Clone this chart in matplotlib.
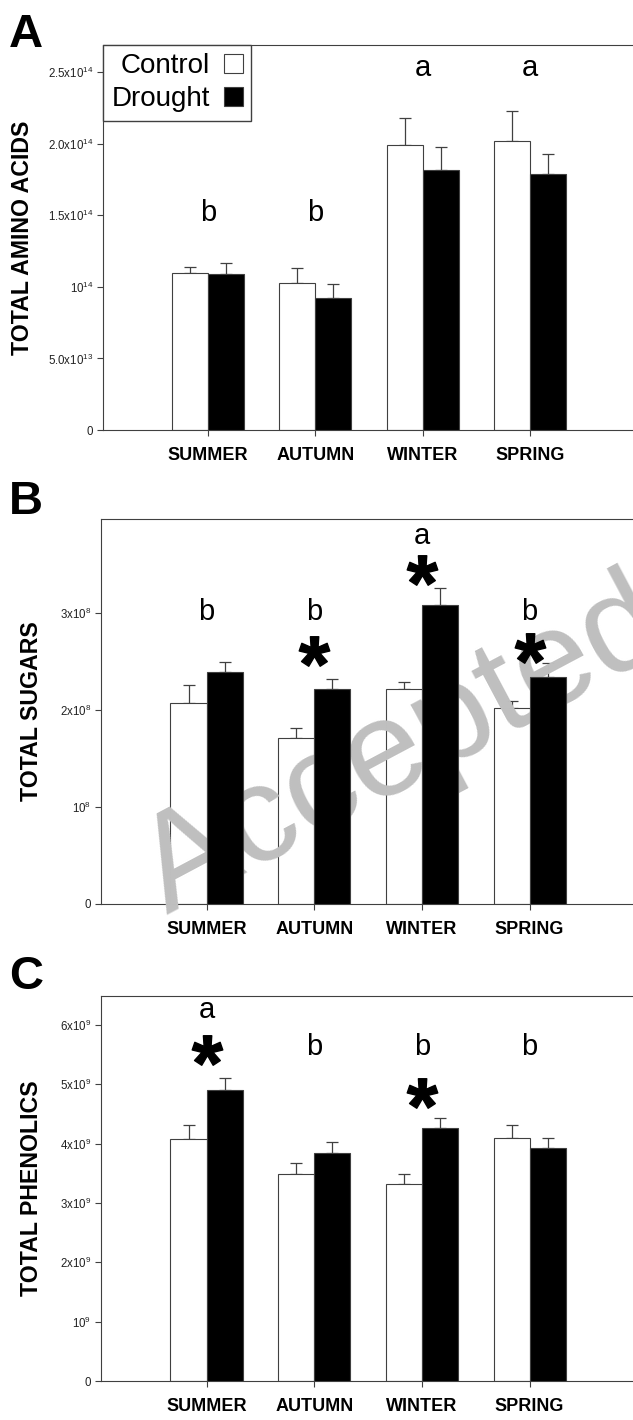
import matplotlib
matplotlib.use('Agg')
import matplotlib.pyplot as plt
import numpy as np

plt.rcParams['font.family'] = ['Liberation Sans', 'DejaVu Sans']
plt.rcParams['mathtext.fontset'] = 'custom'
plt.rcParams['mathtext.rm'] = 'Liberation Sans'
plt.rcParams['mathtext.bf'] = 'Liberation Sans:bold'

seasons = ['SUMMER', 'AUTUMN', 'WINTER', 'SPRING']

# A - total amino acids
amino_control = [1.10e14, 1.03e14, 1.99e14, 2.02e14]
amino_control_err = [0.04e14, 0.10e14, 0.19e14, 0.21e14]
amino_drought = [1.09e14, 0.92e14, 1.82e14, 1.79e14]
amino_drought_err = [0.08e14, 0.10e14, 0.16e14, 0.14e14]
amino_letters = ['b', 'b', 'a', 'a']
amino_letter_y = [1.46e14, 1.46e14, 2.47e14, 2.47e14]
amino_star_y = [None, None, None, None]
amino_ticks = [0, 5e13, 1e14, 1.5e14, 2e14, 2.5e14]
amino_ticklabels = ['0', r'5.0x10$^{\mathregular{13}}$', r'10$^{\mathregular{14}}$',
                    r'1.5x10$^{\mathregular{14}}$', r'2.0x10$^{\mathregular{14}}$',
                    r'2.5x10$^{\mathregular{14}}$']

# B - total sugars
sugar_control = [2.07e8, 1.71e8, 2.22e8, 2.02e8]
sugar_control_err = [0.19e8, 0.10e8, 0.07e8, 0.07e8]
sugar_drought = [2.39e8, 2.22e8, 3.08e8, 2.34e8]
sugar_drought_err = [0.11e8, 0.10e8, 0.18e8, 0.14e8]
sugar_letters = ['b', 'b', 'a', 'b']
sugar_letter_y = [2.93e8, 2.93e8, 3.71e8, 2.93e8]
sugar_star_y = [None, 2.61e8, 3.44e8, 2.64e8]
sugar_ticks = [0, 1e8, 2e8, 3e8]
sugar_ticklabels = ['0', r'10$^{\mathregular{8}}$', r'2x10$^{\mathregular{8}}$',
                    r'3x10$^{\mathregular{8}}$']

# C - total phenolics
phen_control = [4.08e9, 3.49e9, 3.32e9, 4.10e9]
phen_control_err = [0.24e9, 0.19e9, 0.17e9, 0.22e9]
phen_drought = [4.91e9, 3.84e9, 4.27e9, 3.93e9]
phen_drought_err = [0.20e9, 0.19e9, 0.17e9, 0.17e9]
phen_letters = ['a', 'b', 'b', 'b']
phen_letter_y = [6.12e9, 5.50e9, 5.50e9, 5.50e9]
phen_star_y = [5.58e9, None, 4.86e9, None]
phen_ticks = [0, 1e9, 2e9, 3e9, 4e9, 5e9, 6e9]
phen_ticklabels = ['0', r'10$^{\mathregular{9}}$'] + \
    [r'%dx10$^{\mathregular{9}}$' % i for i in range(2, 7)]

W, H = 633, 1420
fig = plt.figure(figsize=(W / 100, H / 100), dpi=100)
axcol = '#404040'


def panel(rect, ylim, control, cerr, drought, derr, letters, letter_y, star_y,
          ticks, ticklabels):
    ax = fig.add_axes(rect)
    x = np.arange(len(seasons))
    w = 0.335
    ax.bar(x - w / 2, control, w, color='white', edgecolor=axcol, linewidth=0.8,
           zorder=2, label='Control')
    ax.bar(x + w / 2, drought, w, color='black', edgecolor=axcol, linewidth=0.8,
           zorder=4, label='Drought')
    ax.errorbar(x - w / 2, control, yerr=[np.zeros(4), cerr], fmt='none',
                ecolor=axcol, elinewidth=0.9, capsize=4.3, capthick=0.9, zorder=1)
    ax.errorbar(x + w / 2, drought, yerr=[np.zeros(4), derr], fmt='none',
                ecolor=axcol, elinewidth=0.9, capsize=4.3, capthick=0.9, zorder=1)
    for i, (lt, ly) in enumerate(zip(letters, letter_y)):
        ax.text(x[i], ly, lt, ha='center', va='baseline', fontsize=21)
    for i, sy in enumerate(star_y):
        if sy is not None:
            ax.plot(x[i], sy, marker=r'$\mathbf{*}$', markersize=22,
                    color='black', linestyle='none', zorder=5)
    ax.set_xlim(-0.98, 3.96)
    ax.set_ylim(*ylim)
    ax.set_xticks(x)
    ax.set_xticklabels(seasons, fontsize=13, fontweight='bold')
    ax.set_yticks(ticks)
    ax.set_yticklabels(ticklabels, fontsize=8.3, color='#222222')
    ax.spines['right'].set_visible(False)
    for s in ['left', 'top', 'bottom']:
        ax.spines[s].set_color(axcol)
        ax.spines[s].set_linewidth(0.8)
    ax.tick_params(axis='both', direction='out', length=4, width=0.8, color=axcol)
    ax.tick_params(axis='x', pad=8)
    ax.tick_params(axis='y', pad=3)
    return ax


def figrect(left, top, bottom):
    return [left / W, 1 - bottom / H, 1 - left / W, (bottom - top) / H]


axA = panel(figrect(103, 45, 430), (0, 2.69e14), amino_control, amino_control_err,
            amino_drought, amino_drought_err, amino_letters, amino_letter_y,
            amino_star_y, amino_ticks, amino_ticklabels)
axB = panel(figrect(101, 519, 904), (0, 3.97e8), sugar_control, sugar_control_err,
            sugar_drought, sugar_drought_err, sugar_letters, sugar_letter_y,
            sugar_star_y, sugar_ticks, sugar_ticklabels)
axC = panel(figrect(101, 996, 1381), (0, 6.49e9), phen_control, phen_control_err,
            phen_drought, phen_drought_err, phen_letters, phen_letter_y,
            phen_star_y, phen_ticks, phen_ticklabels)

leg = axA.legend(loc='upper left', bbox_to_anchor=(0, 1), borderaxespad=0,
                 fontsize=20, markerfirst=False, handlelength=0.7,
                 handleheight=0.7, handletextpad=0.5, labelspacing=0.25,
                 borderpad=0.3, fancybox=False, framealpha=1)
leg.get_frame().set_edgecolor(axcol)
leg.get_frame().set_linewidth(1.0)

# y labels and panel letters
for txt, xp, ax in [('TOTAL AMINO ACIDS', 23, axA), ('TOTAL SUGARS', 32, axB),
                    ('TOTAL PHENOLICS', 32, axC)]:
    pos = ax.get_position()
    fig.text(xp / W, pos.y0 + pos.height / 2, txt, rotation=90, ha='center',
             va='center', fontsize=16.7, fontweight='bold')
for lab, ytop in [('A', 13), ('B', 480), ('C', 955)]:
    fig.text(9 / W, 1 - ytop / H, lab, ha='left', va='top', fontsize=34,
             fontweight='bold')

# watermark
axB.text(-0.37, -0.12e8, 'Accepted', fontsize=99, color='#bfbfbf',
         rotation=28, rotation_mode='anchor', ha='left', va='baseline',
         zorder=3, clip_on=False)

fig.savefig('out.png', dpi=100)
